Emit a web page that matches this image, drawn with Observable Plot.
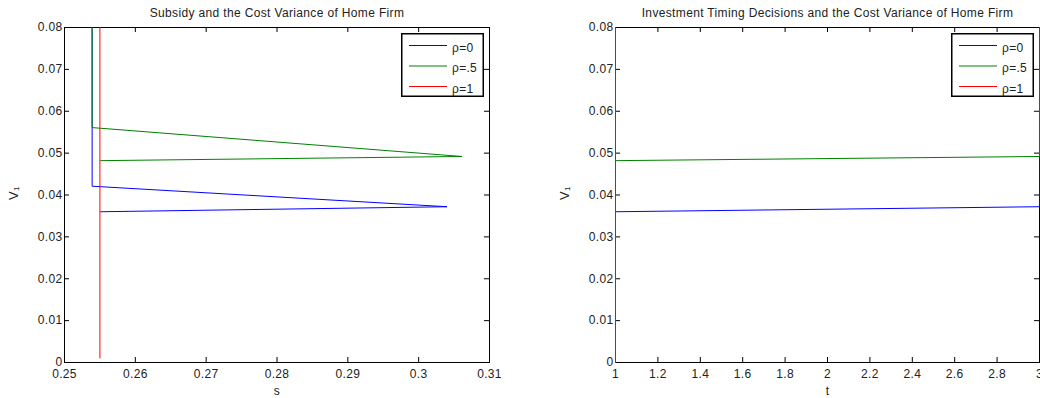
<!DOCTYPE html>
<html><head><meta charset="utf-8">
<script src="https://cdn.jsdelivr.net/npm/d3@7"></script>
<script src="https://cdn.jsdelivr.net/npm/@observablehq/plot@0.6"></script>
<style>
body{margin:0;background:#fff;font-family:"Liberation Sans",Arial,sans-serif;}
#wrap{position:relative;width:1040px;height:398px;display:flex;overflow:hidden;}
.panel{position:relative;width:520px;height:398px;}
.panel svg.leg{position:absolute;}
</style></head><body><div id="wrap"></div>
<script>
const seriesNames = ["ρ=0", "ρ=.5", "ρ=1"];
const seriesColors = ["#0000ff", "#008000", "#ff0000"];

// Left panel: subsidy s vs V1
const sBlue = [0.2539, 0.2539, 0.3040, 0.2551];
const vBlue = [0.08, 0.0421, 0.0372, 0.0360];
const sGreen = [0.2539, 0.2539, 0.3061, 0.2551];
const vGreen = [0.08, 0.0561, 0.0492, 0.0482];
const sRed = [0.2550, 0.2550];
const vRed = [0.08, 0.0011];

// Right panel: timing t vs V1
const tBlue = [3, 3, 1];
const wBlue = [0.08, 0.0372, 0.0360];
const tGreen = [3, 3, 1];
const wGreen = [0.08, 0.0492, 0.0482];
const tRed = [1, 1];
const wRed = [0, 0.08];

const sTicks = [0.25, 0.26, 0.27, 0.28, 0.29, 0.3, 0.31];
const tTicks = [1, 1.2, 1.4, 1.6, 1.8, 2, 2.2, 2.4, 2.6, 2.8, 3];
const vTicks = [0, 0.01, 0.02, 0.03, 0.04, 0.05, 0.06, 0.07, 0.08];

function toRows(xs, ys) { return xs.map((x, i) => ({x, y: ys[i]})); }

function panel({title, xlabel, xDomain, xTicks, series, ml, mr, legendLeft}) {
  const W = 520, H = 398, mt = 27, mb = 36;
  const ph = H - mt - mb, pw = W - ml - mr;
  const marks = [
    Plot.frame({stroke: "black", strokeWidth: 1}),
    Plot.tickX(xTicks, {x: d => d, insetTop: ph - 5, stroke: "black"}),
    Plot.tickX(xTicks, {x: d => d, insetBottom: ph - 5, stroke: "black"}),
    Plot.tickY(vTicks, {y: d => d, insetRight: pw - 5, stroke: "black"}),
    Plot.tickY(vTicks, {y: d => d, insetLeft: pw - 5, stroke: "black"})
  ];
  series.forEach((rows, i) => {
    marks.push(Plot.line(rows, {x: "x", y: "y", stroke: seriesColors[i], strokeWidth: 1}));
  });
  marks.push(
    Plot.text([title], {frameAnchor: "top", lineAnchor: "middle", dy: -14, fontSize: 12, fill: "#222"}),
    Plot.text([xlabel], {frameAnchor: "bottom", lineAnchor: "middle", dy: 29, fontSize: 12, fill: "#222"}),
    Plot.text(["V₁"], {frameAnchor: "left", dx: -51, dy: 5, rotate: -90, fontSize: 13, fill: "#222"})
  );
  const chart = Plot.plot({
    width: W, height: H,
    marginLeft: ml, marginRight: mr, marginTop: mt, marginBottom: mb,
    style: {fontFamily: "Liberation Sans, Arial, sans-serif", fontSize: "12px", letterSpacing: "0.35px", color: "#222", background: "white", overflow: "visible"},
    x: {domain: xDomain, ticks: xTicks, tickSize: 0, tickPadding: 7, label: null, tickFormat: d => String(d)},
    y: {domain: [0, 0.08], ticks: vTicks, tickSize: 0, tickPadding: 2, label: null, tickFormat: d => String(d)},
    marks
  });
  const div = document.createElement("div");
  div.className = "panel";
  div.appendChild(chart);
  // legend
  const ns = "http://www.w3.org/2000/svg";
  const leg = document.createElementNS(ns, "svg");
  leg.setAttribute("class", "leg");
  leg.setAttribute("width", 83); leg.setAttribute("height", 64);
  leg.style.left = legendLeft + "px"; leg.style.top = "33px";
  const rect = document.createElementNS(ns, "rect");
  rect.setAttribute("x", 0.75); rect.setAttribute("y", 0.75);
  rect.setAttribute("width", 81.5); rect.setAttribute("height", 62.5);
  rect.setAttribute("fill", "white"); rect.setAttribute("stroke", "black"); rect.setAttribute("stroke-width", 1.5);
  leg.appendChild(rect);
  seriesNames.forEach((name, i) => {
    const y = 12.5 + i * 20.5;
    const ln = document.createElementNS(ns, "line");
    ln.setAttribute("x1", 8); ln.setAttribute("x2", 46); ln.setAttribute("y1", y); ln.setAttribute("y2", y);
    ln.setAttribute("stroke", seriesColors[i]); ln.setAttribute("stroke-width", 1);
    leg.appendChild(ln);
    const tx = document.createElementNS(ns, "text");
    tx.setAttribute("x", 51); tx.setAttribute("y", y + 6);
    tx.setAttribute("font-size", 12); tx.setAttribute("fill", "#222");
    tx.setAttribute("letter-spacing", "0.3px");
    tx.setAttribute("font-family", "Liberation Sans, Arial, sans-serif");
    tx.textContent = name;
    leg.appendChild(tx);
  });
  div.appendChild(leg);
  return div;
}

const wrap = document.getElementById("wrap");
wrap.appendChild(panel({
  title: "Subsidy and the Cost Variance of Home Firm",
  xlabel: "s", xDomain: [0.25, 0.31], xTicks: sTicks,
  series: [toRows(sBlue, vBlue), toRows(sGreen, vGreen), toRows(sRed, vRed)],
  ml: 64, mr: 31, legendLeft: 401
}));
wrap.appendChild(panel({
  title: "Investment Timing Decisions and the Cost Variance of Home Firm",
  xlabel: "t", xDomain: [1, 3], xTicks: tTicks,
  series: [toRows(tBlue, wBlue), toRows(tGreen, wGreen), toRows(tRed, wRed)],
  ml: 95, mr: 1, legendLeft: 431
}));
</script></body></html>
